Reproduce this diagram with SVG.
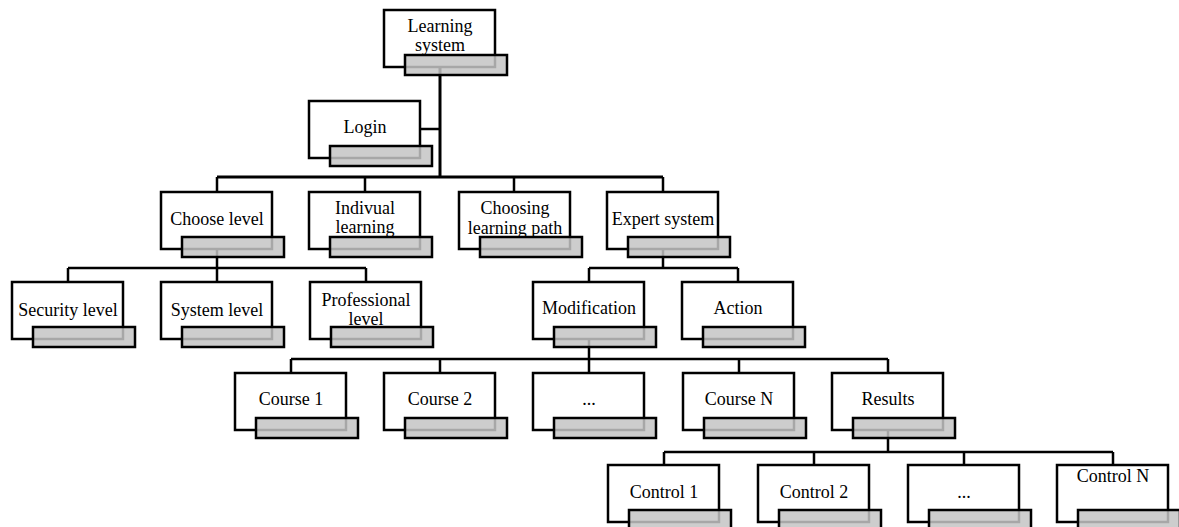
<svg xmlns="http://www.w3.org/2000/svg" width="1179" height="527" viewBox="0 0 1179 527">
<style>
.w{fill:#fff;stroke:#000;stroke-width:2.5}
.g{fill:#c4c4c4;fill-opacity:.85;stroke:#000;stroke-width:2.5}
.c{fill:none;stroke:#000;stroke-width:2.5}
.t{stroke-width:3}
text{font-family:"Liberation Serif","Times New Roman",serif;font-size:18px;text-anchor:middle;fill:#000}
</style>
<rect width="1179" height="527" fill="#fff"/>
<g id="connectors">
<path class="c t" d="M440 67V177"/>
<path class="c" d="M420 129H440"/>
<path class="c t" d="M217 177H663"/>
<path class="c" d="M217 177V192M365 177V192M514 177V192M663 177V192"/>
<path class="c" d="M217 249V268M68 268H366M68 268V282M217 268V282M366 268V282"/>
<path class="c" d="M663 249V268M589 268H738M589 268V282M738 268V282"/>
<path class="c" d="M589 339V359M291 359H888M291 359V373M440 359V373M589 359V373M739 359V373M888 359V373"/>
<path class="c" d="M888 430V452M664 452H1113M664 452V466M814 452V466M964 452V466M1113 452V466"/>
</g>
<g id="n-learning-system"><rect class="w" x="384" y="10" width="111" height="57"/><rect class="g" x="405" y="55" width="102" height="20"/><text x="440" y="32">Learning</text><text x="440" y="51">system</text></g>
<g id="n-login"><rect class="w" x="309" y="101" width="111" height="57"/><rect class="g" x="330" y="146" width="102" height="20"/><text x="365" y="133">Login</text></g>
<g id="n-choose-level"><rect class="w" x="161" y="192" width="111" height="57"/><rect class="g" x="182" y="237" width="102" height="20"/><text x="217" y="225">Choose level</text></g>
<g id="n-indivual"><rect class="w" x="309" y="192" width="111" height="57"/><rect class="g" x="330" y="237" width="102" height="20"/><text x="365" y="214">Indivual</text><text x="365" y="233">learning</text></g>
<g id="n-choosing-path"><rect class="w" x="459" y="192" width="111" height="57"/><rect class="g" x="480" y="237" width="102" height="20"/><text x="515" y="214">Choosing</text><text x="515" y="234">learning path</text></g>
<g id="n-expert"><rect class="w" x="607" y="192" width="111" height="57"/><rect class="g" x="628" y="237" width="102" height="20"/><text x="663" y="225">Expert system</text></g>
<g id="n-security"><rect class="w" x="12" y="282" width="111" height="57"/><rect class="g" x="33" y="327" width="102" height="20"/><text x="68" y="316">Security level</text></g>
<g id="n-system"><rect class="w" x="161" y="282" width="111" height="57"/><rect class="g" x="182" y="327" width="102" height="20"/><text x="217" y="316">System level</text></g>
<g id="n-professional"><rect class="w" x="310" y="282" width="111" height="57"/><rect class="g" x="331" y="327" width="102" height="20"/><text x="366" y="306">Professional</text><text x="366" y="325">level</text></g>
<g id="n-modification"><rect class="w" x="533" y="282" width="111" height="57"/><rect class="g" x="554" y="327" width="102" height="20"/><text x="589" y="314">Modification</text></g>
<g id="n-action"><rect class="w" x="682" y="282" width="111" height="57"/><rect class="g" x="703" y="327" width="102" height="20"/><text x="738" y="314">Action</text></g>
<g id="n-course1"><rect class="w" x="235" y="373" width="111" height="57"/><rect class="g" x="256" y="418" width="102" height="20"/><text x="291" y="405">Course 1</text></g>
<g id="n-course2"><rect class="w" x="384" y="373" width="111" height="57"/><rect class="g" x="405" y="418" width="102" height="20"/><text x="440" y="405">Course 2</text></g>
<g id="n-course-dots"><rect class="w" x="533" y="373" width="111" height="57"/><rect class="g" x="554" y="418" width="102" height="20"/><text x="589" y="405">...</text></g>
<g id="n-courseN"><rect class="w" x="683" y="373" width="111" height="57"/><rect class="g" x="704" y="418" width="102" height="20"/><text x="739" y="405">Course N</text></g>
<g id="n-results"><rect class="w" x="832" y="373" width="111" height="57"/><rect class="g" x="853" y="418" width="102" height="20"/><text x="888" y="405">Results</text></g>
<g id="n-control1"><rect class="w" x="608" y="465" width="111" height="57"/><rect class="g" x="629" y="510" width="102" height="20"/><text x="664" y="498">Control 1</text></g>
<g id="n-control2"><rect class="w" x="758" y="465" width="111" height="57"/><rect class="g" x="779" y="510" width="102" height="20"/><text x="814" y="498">Control 2</text></g>
<g id="n-control-dots"><rect class="w" x="908" y="465" width="111" height="57"/><rect class="g" x="929" y="510" width="102" height="20"/><text x="964" y="498">...</text></g>
<g id="n-controlN"><rect class="w" x="1057" y="465" width="111" height="57"/><rect class="g" x="1078" y="510" width="102" height="20"/><text x="1113" y="482">Control N</text></g>
</svg>
